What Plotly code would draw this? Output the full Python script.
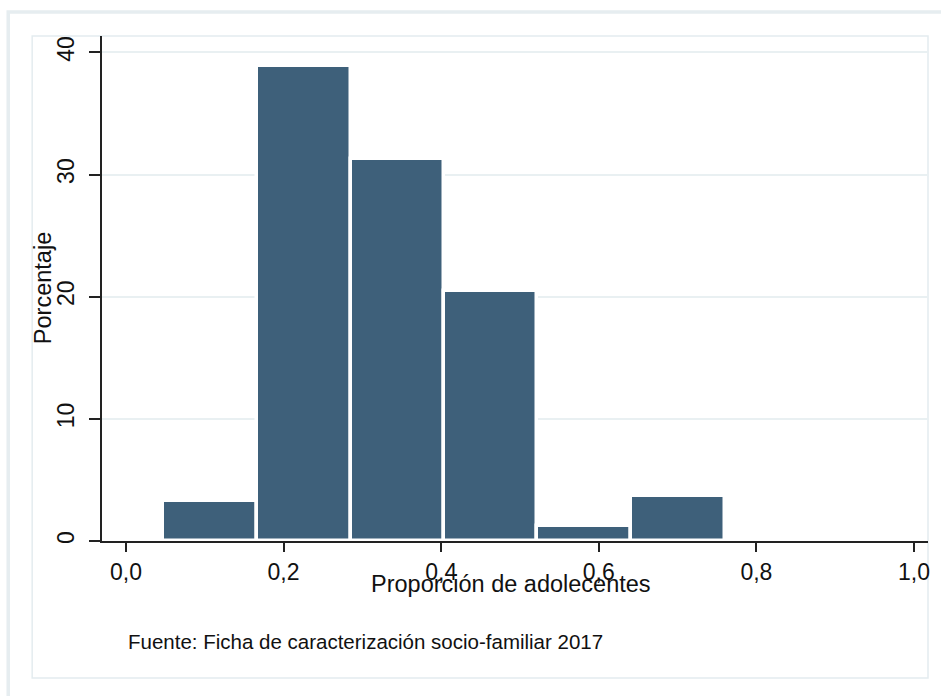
import plotly.graph_objects as go

# ---- data ----
bin_edges = [0.047, 0.166, 0.285, 0.403, 0.522, 0.641, 0.760]
percent = [3.3, 38.9, 31.3, 20.5, 1.2, 3.7]

x_tick_vals = [0.0, 0.2, 0.4, 0.6, 0.8, 1.0]
x_tick_text = ["0,0", "0,2", "0,4", "0,6", "0,8", "1,0"]
y_tick_vals = [0, 10, 20, 30, 40]
y_tick_text = ["0", "10", "20", "30", "40"]

x_title = "Proporción de adolecentes"
y_title = "Porcentaje"
note = "Fuente: Ficha de caracterización socio-familiar 2017"

centers = [(a + b) / 2 for a, b in zip(bin_edges[:-1], bin_edges[1:])]
widths = [(b - a) for a, b in zip(bin_edges[:-1], bin_edges[1:])]

FONT = "Arial, 'Liberation Sans', sans-serif"
BAR = "rgb(62,96,122)"
GRID = "#e9f0f2"
AXIS = "#222222"

fig = go.Figure()
fig.add_trace(go.Bar(
    x=centers, y=percent, width=widths,
    marker=dict(color=BAR, line=dict(color="#ffffff", width=3.5)),
    hoverinfo="x+y",
))

# pixel helpers for decorations (plot area: x 102..930, y 36..541)
W, H = 941, 696
L, R, T, B = 102, 930, 36, 541
def px(x):
    return (x - L) / (R - L)
def py(y):
    return (B - y) / (B - T)

shapes = [
    # outer frame
    dict(type="rect", xref="paper", yref="paper",
         x0=px(8), x1=px(950), y0=py(705), y1=py(12),
         line=dict(color="#e6edf0", width=3.5), fillcolor="rgba(0,0,0,0)", layer="below"),
    # inner frame
    dict(type="rect", xref="paper", yref="paper",
         x0=px(32), x1=px(930), y0=py(678), y1=py(36),
         line=dict(color="#e4ecef", width=1.5), fillcolor="rgba(0,0,0,0)", layer="below"),
]

fig.update_layout(
    width=W, height=H,
    margin=dict(l=L, r=W - R, t=T, b=H - B, pad=0),
    paper_bgcolor="white", plot_bgcolor="white",
    bargap=0,
    showlegend=False,
    font=dict(family=FONT, size=23, color="#111111"),
    shapes=shapes,
    annotations=[
        dict(text=note, xref="paper", yref="paper", x=px(126), y=py(641),
             xanchor="left", yanchor="middle", showarrow=False,
             font=dict(family=FONT, size=20.5, color="#111111")),
        dict(text=x_title, xref="paper", yref="paper", x=px(512), y=py(584),
             xanchor="center", yanchor="middle", showarrow=False,
             font=dict(family=FONT, size=23.5, color="#111111")),
        dict(text=y_title, xref="paper", yref="paper", x=px(43), y=py(288),
             xanchor="center", yanchor="middle", showarrow=False, textangle=-90,
             font=dict(family=FONT, size=23.5, color="#111111")),
    ],
)

fig.update_xaxes(
    range=[(L - 126) / 790, (R - 126) / 790],
    tickvals=x_tick_vals, ticktext=x_tick_text,
    ticks="outside", ticklen=9, tickwidth=2, tickcolor=AXIS,
    showline=True, linecolor=AXIS, linewidth=2,
    showgrid=False, zeroline=False,
    tickfont=dict(family=FONT, size=23, color="#111111"),
)
fig.update_yaxes(
    range=[0, (B - T) / 12.215],
    tickvals=y_tick_vals, ticktext=y_tick_text, tickangle=-90,
    ticks="outside", ticklen=11, tickwidth=2, tickcolor=AXIS,
    showline=True, linecolor=AXIS, linewidth=2,
    showgrid=True, gridcolor=GRID, gridwidth=1.5,
    zeroline=False,
    tickfont=dict(family=FONT, size=23, color="#111111"),
    ticklabelstandoff=6,
)

fig.write_html(
    "out.html",
    config={"displayModeBar": False},
    post_script="document.body.style.margin='0';document.body.style.padding='0';"
                "document.body.style.overflow='hidden';",
)
